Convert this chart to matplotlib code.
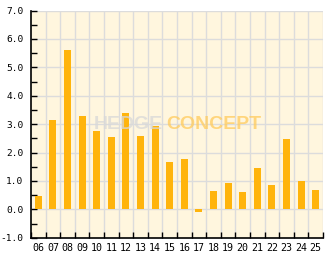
import matplotlib.pyplot as plt
import numpy as np

years = ["06", "07", "08", "09", "10", "11", "12", "13", "14", "15",
         "16", "17", "18", "19", "20", "21", "22", "23", "24", "25"]
values = [0.48, 3.16, 5.62, 3.30, 2.77, 2.56, 3.38, 2.59, 2.95, 1.68,
          1.78, -0.08, 0.66, 0.94, 0.62, 1.47, 0.87, 2.49, 1.01, 0.69]
yticks = [-1.0, 0.0, 1.0, 2.0, 3.0, 4.0, 5.0, 6.0, 7.0]

bar_color = "#FFB40C"
bg_color = "#FFF6DE"
grid_color = "#DCDCDC"

fig = plt.figure(figsize=(3.32, 2.69), dpi=100)
ax = fig.add_axes([31 / 332, 31.3 / 269, 292 / 332, 227.2 / 269])
ax.set_facecolor(bg_color)

x = np.arange(len(years))
ax.bar(x, values, width=0.48, color=bar_color, zorder=3)

ax.set_xlim(-0.5, len(years) - 0.5)
ax.set_ylim(-1.0, 7.0)

# grid at category boundaries and whole numbers
for b in np.arange(-0.5, len(years), 1.0)[1:]:
    ax.axvline(b, color=grid_color, lw=1.0, zorder=1)
for v in yticks[1:]:
    ax.axhline(v, color=grid_color, lw=1.0, zorder=1)

ax.set_yticks(yticks)
ax.set_yticklabels([f"{v:.1f}" for v in yticks])
ax.set_yticks(np.arange(-0.5, 7.0, 1.0), minor=True)
ax.set_xticks(x)
ax.set_xticklabels(years)
ax.set_xticks(np.arange(-0.5, len(years), 1.0), minor=True)

ax.tick_params(axis="y", which="both", direction="in", length=4, width=1,
               labelsize=6.8, pad=5.5)
ax.tick_params(axis="x", which="major", length=0, labelsize=7.2, pad=4)
ax.tick_params(axis="x", which="minor", direction="in", length=4, width=1)
for lab in ax.get_xticklabels() + ax.get_yticklabels():
    lab.set_family("DejaVu Sans Mono")

for s in ["top", "right"]:
    ax.spines[s].set_visible(False)
for s in ["left", "bottom"]:
    ax.spines[s].set_linewidth(1.2)
    ax.spines[s].set_zorder(5)

# watermark
wm = dict(transform=ax.transAxes, va="center", fontsize=14, fontweight="bold",
          family="Liberation Sans", zorder=4)
ax.text(0.45, 0.50, "HEDGE", ha="right", color="#D8D8D8", alpha=0.75, **wm)
ax.text(0.462, 0.50, "CONCEPT", ha="left", color="#FFCB5C", alpha=0.75, **wm)

fig.savefig("out.png", dpi=100)
